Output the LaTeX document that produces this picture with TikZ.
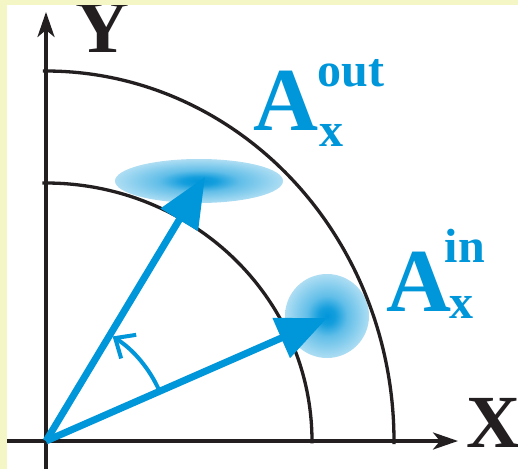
\documentclass[tikz,border=0pt]{standalone}
\usepackage{fontspec}
\setmainfont{Liberation Serif}
\usetikzlibrary{arrows.meta}
\definecolor{bgyellow}{RGB}{244,247,197}
\definecolor{vblue}{RGB}{0,150,218}
\definecolor{ink}{RGB}{35,31,32}
\pgfdeclareradialshading{blob}{\pgfpoint{0bp}{0bp}}{color(0bp)=(vblue); color(5bp)=(vblue!92!white); color(12bp)=(vblue!62!white); color(25bp)=(vblue!32!white); color(50bp)=(vblue!32!white)}
\begin{document}
\begin{tikzpicture}[x=1pt,y=1pt,
  axis/.style={ink, line width=3.6pt},
  arcline/.style={ink, line width=3.3pt},
  vec/.style={vblue, line width=7pt, -{Triangle[length=50pt,width=42pt]}},
  axlab/.style={ink, inner sep=0pt, anchor=base, font=\fontsize{75}{75}\selectfont\bfseries},
  biglab/.style={vblue, inner sep=0pt, anchor=base, font=\fontsize{90}{90}\selectfont\bfseries},
  smalllab/.style={vblue, inner sep=0pt, anchor=base, font=\fontsize{48}{48}\selectfont\bfseries}]
\useasboundingbox (0,0) rectangle (518,469);
\fill[bgyellow] (0,0) rectangle (518,469);
\fill[white] (7,0) rectangle (518,464);
% blobs
\shade[shading=blob] (199,288) ellipse [x radius=84, y radius=22];
\shade[shading=blob] (327,153) circle [radius=42];
% coordinates
\coordinate (O) at (46,28);
\coordinate (ybot) at (46,0);
\coordinate (ytip) at (46,457);
\coordinate (xl) at (7,28);
\coordinate (xtip) at (458,28);
\coordinate (t1) at (205,292);
\coordinate (t2) at (327,151);
% axes
\draw[axis, -{Stealth[length=25pt,width=17pt,inset=7pt]}] (ybot) -- (ytip);
\draw[axis, -{Stealth[length=25pt,width=17pt,inset=7pt]}] (xl) -- (xtip);
% arcs
\draw[arcline] (O) ++(90.5:348 and 370) arc[start angle=90.5, end angle=-0.5, x radius=348, y radius=370];
\draw[arcline] (O) ++(90.8:266 and 258) arc[start angle=90.8, end angle=-0.5, x radius=266, y radius=258];
% vectors
\draw[vec] (O) -- (t1);
\draw[vec] (O) -- (t2);
% angle
\draw[vblue, line width=4pt, -{Straight Barb[length=16pt,width=28pt]}] (O) ++(24:124) arc[start angle=24, end angle=57.5, radius=124];
% labels
\node[axlab] (ylab) at (103,416) {Y};
\node[axlab] (xlab) at (494,22) {X};
\node[biglab] (aout) at (286,338) {A};
\node[smalllab] (outs) at (351,382) {out};
\node[smalllab] (outx) at (331,322) {x};
\node[biglab] (ain) at (419,158) {A};
\node[smalllab] (ins) at (465,207) {in};
\node[smalllab] (inx) at (461,151) {x};
\fill[bgyellow] (0,464) rectangle (518,469);
\end{tikzpicture}
\end{document}
